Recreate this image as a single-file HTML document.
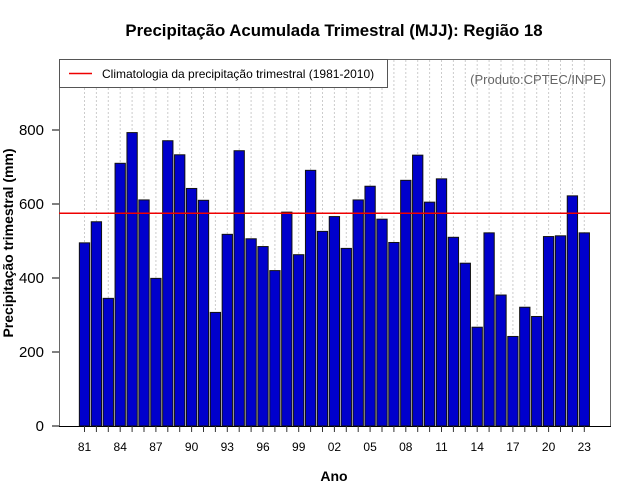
<!DOCTYPE html>
<html><head><meta charset="utf-8"><style>
body{margin:0;background:#fff}
svg{display:block;font-family:"Liberation Sans",sans-serif}
</style></head><body>
<svg id="chart" width="640" height="500">
<text x="334" y="36" text-anchor="middle" font-size="16.8" font-weight="bold">Precipitação Acumulada Trimestral (MJJ): Região 18</text>
<g id="grid"></g>
<g id="bars"></g>
<rect x="59.5" y="59.5" width="551" height="367" fill="none" stroke="#666"/>
<line x1="59" y1="426.5" x2="611" y2="426.5" stroke="#000"/>
<g id="clim"></g>
<g id="yaxis"></g>
<g id="xaxis"></g>
<g>
<rect x="59.5" y="59.5" width="328" height="28" fill="#fff" stroke="#555"/>
<line x1="69" y1="73.5" x2="92" y2="73.5" stroke="#e00" stroke-width="1.5"/>
<text x="102" y="78" font-size="12">Climatologia da precipitação trimestral (1981-2010)</text>
</g>
<text x="606" y="84" text-anchor="end" font-size="13" fill="#666">(Produto:CPTEC/INPE)</text>
<text x="334" y="481" text-anchor="middle" font-size="14" font-weight="bold">Ano</text>
<text transform="translate(13,243) rotate(-90)" text-anchor="middle" font-size="14" font-weight="bold">Precipitação trimestral (mm)</text>
</svg>
<script>
const years=[1981,1982,1983,1984,1985,1986,1987,1988,1989,1990,1991,1992,1993,1994,1995,1996,1997,1998,1999,2000,2001,2002,2003,2004,2005,2006,2007,2008,2009,2010,2011,2012,2013,2014,2015,2016,2017,2018,2019,2020,2021,2022,2023];
const values=[495,552,345,710,793,611,399,771,733,642,610,307,518,744,506,485,420,578,463,691,526,566,480,611,648,559,496,664,732,605,668,510,440,267,522,354,242,321,296,512,514,622,522];
const climatology=575;
const yTicks=[0,200,400,600,800];
const NS='http://www.w3.org/2000/svg';
const x0=84.5,step=11.9,bw=10.3;
function xs(i){return x0+i*step;}
function ys(v){return 426-v*0.37;}
function mk(t,a,p){const e=document.createElementNS(NS,t);for(const k in a)e.setAttribute(k,a[k]);p.appendChild(e);return e;}
const g=document.getElementById('grid'),b=document.getElementById('bars'),xa=document.getElementById('xaxis'),ya=document.getElementById('yaxis'),cl=document.getElementById('clim');
years.forEach((y,i)=>{
 const gl=mk('line',{x1:xs(i),x2:xs(i),y1:60,y2:426,stroke:'#ccc','stroke-dasharray':'2,2'},g);
 
 
 const r=mk('rect',{x:xs(i)-bw/2,y:ys(values[i]),width:bw,height:426-ys(values[i]),fill:'#0000cc',stroke:'#111','stroke-width':1},b);
 
 
 const t=mk('line',{x1:xs(i),x2:xs(i),y1:426,y2:432,stroke:'#333'},xa);
 
 
 if(i%3===0){
  const l=mk('text',{x:xs(i),y:451,'text-anchor':'middle','font-size':12},xa);
  l.textContent=String(y%100).padStart(2,'0');
  
  
 }
});
const cline=mk('line',{x1:59,x2:610,y1:ys(climatology),y2:ys(climatology),stroke:'#e00','stroke-width':1.5},cl);


yTicks.forEach(v=>{
 const t=mk('line',{x1:52,x2:59,y1:ys(v),y2:ys(v),stroke:'#000'},ya);
 
 
 const l=mk('text',{x:44,y:ys(v)+5,'text-anchor':'end','font-size':15},ya);
 l.textContent=v;
 
 
});
</script>
</body></html>
